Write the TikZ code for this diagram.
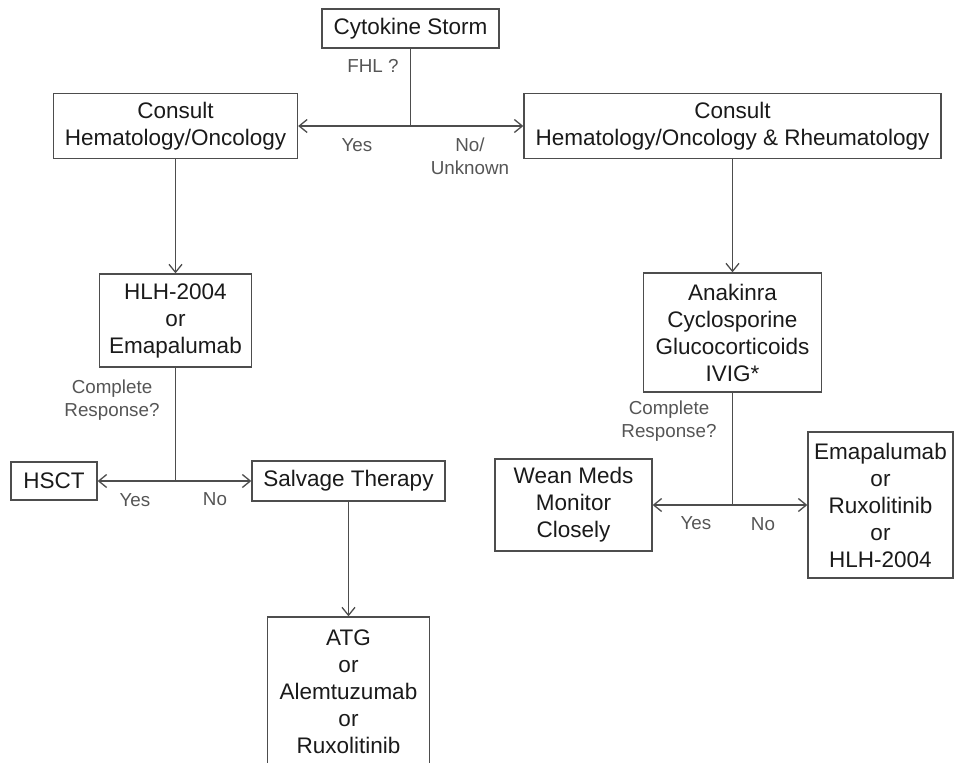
\documentclass[tikz,border=0pt]{standalone}
\usepackage{fontspec}
\setmainfont{Liberation Sans}
\usepackage{xcolor}
\definecolor{linegray}{HTML}{4D4D4D}
\definecolor{labelgray}{HTML}{555555}
\definecolor{textblack}{HTML}{1A1A1A}
\usepackage{tikz}
\usetikzlibrary{arrows.meta, positioning}

\begin{document}
\begin{tikzpicture}[
        x=0.5pt, y=-0.5pt,
        box/.style={draw=linegray, line width=0.65pt, rectangle, align=center, inner sep=2pt, text=textblack, font=\fontsize{11.25}{13.5}\selectfont},
        flow/.style={-{Straight Barb[length=4pt, width=6.5pt]}, draw=linegray, line width=0.65pt},
        link/.style={draw=linegray, line width=0.65pt},
        note/.style={align=center, text=labelgray, inner sep=0pt, font=\fontsize{9.4}{11.5}\selectfont}
    ]
        \useasboundingbox (0,0) rectangle (955,762);

        % Top decision
        \node[box, minimum width=88.5pt, minimum height=19.5pt] (storm) at (410.5,28.5) {Cytokine Storm};
        \coordinate (fhl) at (410.5,126);

        % Consult boxes
        \node[box, minimum width=122pt, minimum height=32.5pt] (hemL) at (175.5,126) {Consult\\Hematology/Oncology};
        \node[box, minimum width=208.5pt, minimum height=32.5pt] (hemR) at (732.5,126) {Consult\\Hematology/Oncology \& Rheumatology};

        % Left branch
        \node[box, minimum width=76pt, minimum height=46.5pt] (hlh) at (175.5,320.5) {HLH-2004\\or\\Emapalumab};
        \coordinate (respL) at (175.5,481);
        \node[box, minimum width=43pt, minimum height=19pt] (hsct) at (54,481) {HSCT};
        \node[box, minimum width=96.5pt, minimum height=20pt] (salvage) at (348.5,481) {Salvage Therapy};
        \node[box, minimum width=81pt, minimum height=75pt] (atg) at (348.5,692) {ATG\\or\\Alemtuzumab\\or\\Ruxolitinib};

        % Right branch
        \node[box, minimum width=89pt, minimum height=59.5pt] (anak) at (732.5,332.5) {Anakinra\\Cyclosporine\\Glucocorticoids\\IVIG*};
        \coordinate (respR) at (732.5,505);
        \node[box, minimum width=78.5pt, minimum height=46pt] (wean) at (573.5,505) {Wean Meds\\Monitor\\Closely};
        \node[box, minimum width=72.5pt, minimum height=73pt] (emap) at (880.5,505) {Emapalumab\\or\\Ruxolitinib\\or\\HLH-2004};

        % Connectors
        \draw[link] (storm) -- (fhl);
        \draw[flow] (fhl) -- (hemL);
        \draw[flow] (fhl) -- (hemR);
        \draw[flow] (hemL) -- (hlh);
        \draw[link] (hlh) -- (respL);
        \draw[flow] (respL) -- (hsct);
        \draw[flow] (respL) -- (salvage);
        \draw[flow] (salvage) -- (atg);
        \draw[flow] (hemR) -- (anak);
        \draw[link] (anak) -- (respR);
        \draw[flow] (respR) -- (wean);
        \draw[flow] (respR) -- (emap);

        % Labels
        \node[note] (qFhl) at (373,66) {FHL ?};
        \node[note] (yesTop) at (357,145) {Yes};
        \node[note] (noTop) at (470,156.5) {No/\\Unknown};
        \node[note] (qLeft) at (112,400.5) {Complete\\Response?};
        \node[note] (yesL) at (135,500) {Yes};
        \node[note] (noL) at (215,499) {No};
        \node[note] (qRight) at (669,421) {Complete\\Response?};
        \node[note] (yesR) at (696,523) {Yes};
        \node[note] (noR) at (763,524) {No};

    \end{tikzpicture}
\end{document}
